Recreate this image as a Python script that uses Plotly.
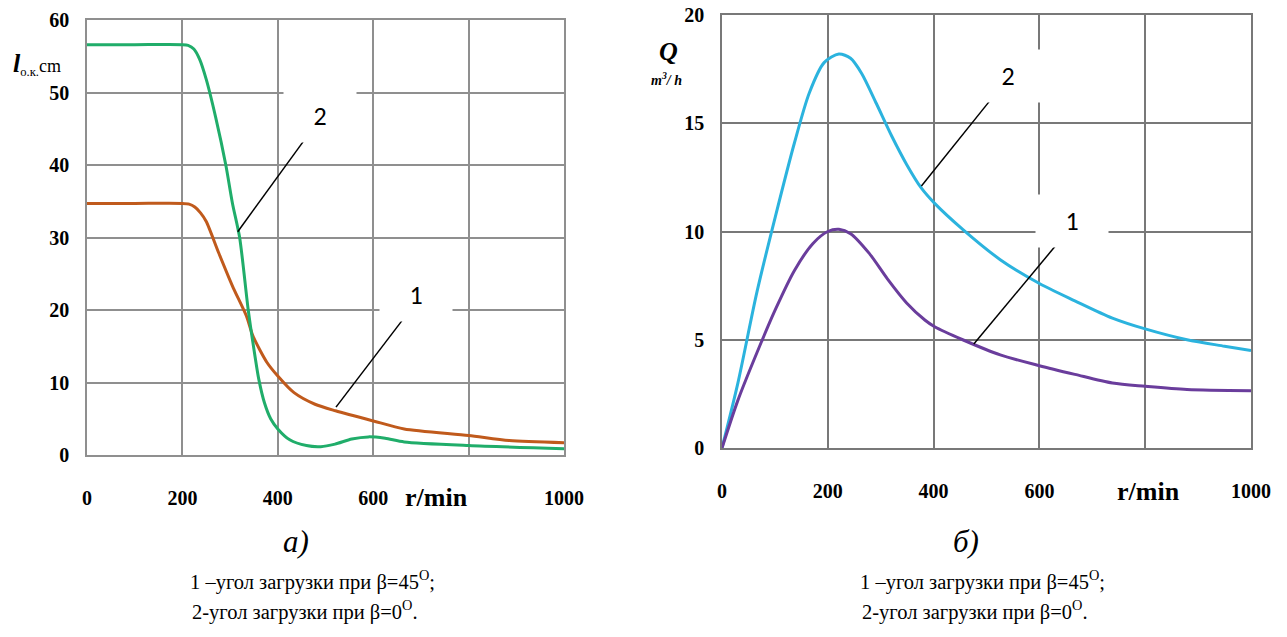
import plotly.graph_objects as go

W, H = 1287, 637

# ---------------- data: panel a) ----------------
a_x1 = [0, 100, 200, 214, 226, 238, 250, 276, 305, 334, 348, 377, 400, 434, 478, 521, 600, 665, 800, 885, 1000]
a_y1 = [34.7, 34.7, 34.7, 34.6, 34.2, 33.4, 32.2, 27.9, 23.3, 19.2, 16.4, 12.8, 10.9, 8.6, 7.0, 6.1, 4.7, 3.6, 2.7, 2.0, 1.7]

a_x2 = [0, 100, 200, 212, 224, 236, 250, 270, 291, 305, 320, 338, 349, 360, 372, 385, 400, 425, 460, 490, 520, 555, 590, 625, 665, 800, 1000]
a_y2 = [56.6, 56.6, 56.6, 56.5, 56.0, 54.6, 51.8, 46.5, 40.0, 34.7, 30.0, 20.0, 15.0, 10.5, 7.2, 5.0, 3.6, 2.1, 1.3, 1.15, 1.5, 2.2, 2.5, 2.3, 1.8, 1.3, 0.85]

# ---------------- data: panel б) ----------------
b_x1 = [0, 30, 66, 101, 137, 172, 200, 221, 243, 278, 313, 349, 384, 402, 455, 526, 600, 667, 738, 800, 879, 1000]
b_y1 = [0, 2.2, 4.4, 6.4, 8.2, 9.45, 10.0, 10.1, 9.9, 9.0, 7.8, 6.7, 5.9, 5.6, 5.0, 4.3, 3.8, 3.4, 3.0, 2.85, 2.7, 2.65]

b_x2 = [0, 30, 66, 101, 137, 165, 193, 221, 243, 264, 292, 321, 349, 377, 402, 455, 526, 600, 667, 738, 800, 879, 950, 1000]
b_y2 = [0, 3.0, 7.2, 10.7, 14.1, 16.4, 17.8, 18.2, 18.0, 17.3, 15.9, 14.4, 13.1, 12.0, 11.3, 10.1, 8.7, 7.6, 6.8, 6.0, 5.5, 5.0, 4.7, 4.5]

x_ticks = [0, 200, 400, 600, 800, 1000]
x_ticktext = ["0", "200", "400", "600", "", "1000"]
a_yticks = [0, 10, 20, 30, 40, 50, 60]
b_yticks = [0, 5, 10, 15, 20]

# callouts: (label, label_x, label_y, line_x0, line_y0, line_x1, line_y1)
a_callouts = [("2", 488, 46.7, 454, 43.3, 316, 30.8),
              ("1", 689, 22.1, 660, 18.5, 522, 6.6)]
b_callouts = [("2", 540, 17.2, 505, 16.0, 377, 12.1),
              ("1", 662, 10.5, 636, 9.5, 476, 4.8)]

captions = ["1 –угол загрузки при β=45<sup>O</sup>;", "2-угол загрузки при β=0<sup>O</sup>."]

# ---------------- styles ----------------
C_ORANGE = "#c05a1c"
C_GREEN = "#20ad6a"
C_CYAN = "#2bb3de"
C_PURPLE = "#6a3d9c"
GRID_A = "#8f8f8f"
GRID_B = "#787878"
SERIF = "Times New Roman, Liberation Serif, DejaVu Serif, serif"
SANS = "Carlito, Calibri, Open Sans, sans-serif"


def px(x):
    return x / W


def py(y):
    return 1 - y / H


fig = go.Figure()
fig.add_trace(go.Scatter(x=a_x1, y=a_y1, mode="lines", line=dict(color=C_ORANGE, width=3, shape="spline", smoothing=0.7),
                         xaxis="x", yaxis="y", showlegend=False))
fig.add_trace(go.Scatter(x=a_x2, y=a_y2, mode="lines", line=dict(color=C_GREEN, width=3, shape="spline", smoothing=0.7),
                         xaxis="x", yaxis="y", showlegend=False))
fig.add_trace(go.Scatter(x=b_x2, y=b_y2, mode="lines", line=dict(color=C_CYAN, width=3, shape="spline", smoothing=0.8),
                         xaxis="x2", yaxis="y2", showlegend=False))
fig.add_trace(go.Scatter(x=b_x1, y=b_y1, mode="lines", line=dict(color=C_PURPLE, width=3, shape="spline", smoothing=0.8),
                         xaxis="x2", yaxis="y2", showlegend=False))

tickfont = dict(family=SERIF, size=20, color="black", weight="bold")


def xaxis(dom, anchor, grid):
    return dict(domain=dom, anchor=anchor, range=[0, 1000], tickvals=x_ticks, ticktext=x_ticktext,
                showgrid=True, gridcolor=grid, gridwidth=1.5, zeroline=False, showline=True,
                linecolor=grid, linewidth=1.5, mirror=True, ticks="", tickfont=tickfont,
                ticklabelstandoff=24, fixedrange=True, automargin=False)


def yaxis(dom, anchor, rng, vals, grid):
    return dict(domain=dom, anchor=anchor, range=rng, tickvals=vals,
                showgrid=True, gridcolor=grid, gridwidth=1.5, zeroline=False, showline=True,
                linecolor=grid, linewidth=1.5, mirror=True, ticks="", tickfont=tickfont,
                ticklabelstandoff=12, fixedrange=True, automargin=False)


fig.update_layout(
    template="none",
    width=W, height=H, margin=dict(l=0, r=0, t=0, b=0, pad=0), autosize=False,
    paper_bgcolor="white", plot_bgcolor="white",
    xaxis=xaxis([px(87), px(564)], "y", GRID_A),
    yaxis=yaxis([py(455), py(20)], "x", [0, 60], a_yticks, GRID_A),
    xaxis2=xaxis([px(722), px(1251)], "y2", GRID_B),
    yaxis2=yaxis([py(448), py(15)], "x2", [0, 20], b_yticks, GRID_B),
)

ann = []
shapes = []
for (lab, lx, ly, x0, y0, x1, y1), xr, yr in [(c, "x", "y") for c in a_callouts] + [(c, "x2", "y2") for c in b_callouts]:
    shapes.append(dict(type="line", xref=xr, yref=yr, x0=x0, y0=y0, x1=x1, y1=y1,
                       line=dict(color="black", width=1.5)))
    ann.append(dict(xref=xr, yref=yr, x=lx, y=ly, text=lab, showarrow=False, bgcolor="white",
                    xanchor="center", yanchor="middle",
                    width=70, height=50, font=dict(family=SANS, size=26, color="black")))


def note(x, y, text, size, xanchor="center", italic=False):
    ann.append(dict(xref="paper", yref="paper", x=px(x), y=py(y), showarrow=False,
                    xanchor=xanchor, yanchor="middle", text=text,
                    font=dict(family=SERIF, size=size, color="black")))


# axis titles
note(11, 64, "<b><i><span style='font-size:26px'>l</span></i></b><sub>о.к.</sub>cm", 18, xanchor="left")
note(668, 52, "<b><i>Q</i></b>", 26)
note(666, 79, "<b><i>m<sup>3</sup>/ h</i></b>", 14)
# r/min
note(437, 497, "<b>r/min</b>", 26)
note(1148, 492, "<b>r/min</b>", 26)
# panel letters
note(296, 541, "<i>а)</i>", 31)
note(966, 541, "<i>б)</i>", 31)
# captions
for x0 in [188, 858]:
    note(x0, 580, captions[0], 20.5, xanchor="left")
    note(x0 + 2, 610, captions[1], 20.5, xanchor="left")

fig.update_layout(annotations=ann, shapes=shapes)
fig.write_html("out.html")
